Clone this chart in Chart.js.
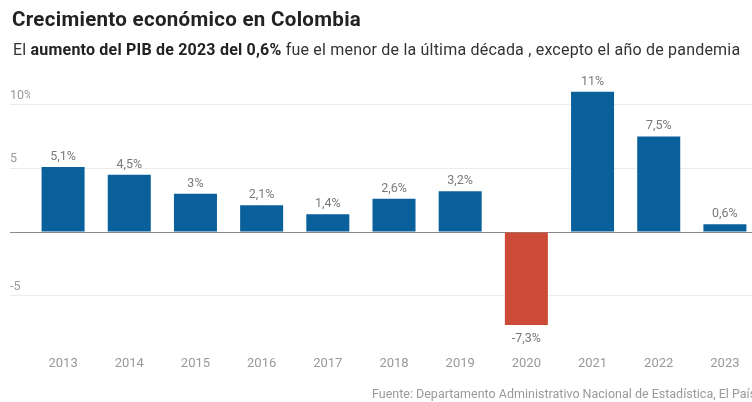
<!DOCTYPE html>
<html>
<head>
<meta charset="utf-8">
<script src="https://cdn.jsdelivr.net/npm/chart.js@4/dist/chart.umd.min.js"></script>
<style>
  html, body { margin: 0; padding: 0; background: #fff; }
  body { width: 752px; height: 402px; position: relative; overflow: hidden; font-family: 'Roboto', sans-serif; }
  #wrap { position: absolute; left: 0; top: 0; width: 758px; height: 402px; }
  .title { position: absolute; left: 12px; top: 7px; font-size: 20.5px; font-weight: 700; color: #222; letter-spacing: 0.3px; white-space: nowrap; }
  .sub { position: absolute; left: 13px; top: 40px; font-size: 16px; color: #333; white-space: nowrap; letter-spacing: 0.2px; }
  .sub b { font-weight: 700; color: #222; }
  .src { position: absolute; left: 372px; top: 386px; font-size: 12.5px; color: #9a9a9a; white-space: nowrap; }
</style>
</head>
<body>
<div id="wrap"><canvas id="chart" width="758" height="402"></canvas></div>
<div class="title">Crecimiento económico en Colombia</div>
<div class="sub">El <b>aumento del PIB de 2023 del 0,6%</b> fue el menor de la última década , excepto el año de pandemia</div>
<div class="src">Fuente: Departamento Administrativo Nacional de Estadística, El País</div>
<script>
const years = ['2013', '2014', '2015', '2016', '2017', '2018', '2019', '2020', '2021', '2022', '2023'];
const growth = [5.1, 4.5, 3.0, 2.1, 1.4, 2.6, 3.2, -7.3, 11, 7.5, 0.6];
const valueLabels = ['5,1%', '4,5%', '3%', '2,1%', '1,4%', '2,6%', '3,2%', '-7,3%', '11%', '7,5%', '0,6%'];
const yTicks = { '10': '10%', '5': '5', '0': '', '-5': '-5' };

const BLUE = '#0a609b';
const RED = '#cc4b37';

// etiquetas de valor encima / debajo de cada barra
const barLabels = {
  id: 'barLabels',
  afterDatasetsDraw(chart) {
    const ctx = chart.ctx;
    const meta = chart.getDatasetMeta(0);
    ctx.save();
    ctx.font = '12.5px Roboto, sans-serif';
    ctx.fillStyle = '#7a7a7a';
    ctx.textAlign = 'center';
    meta.data.forEach((bar, i) => {
      if (growth[i] >= 0) {
        ctx.textBaseline = 'bottom';
        ctx.fillText(valueLabels[i], bar.x, bar.y - 4);
      } else {
        ctx.textBaseline = 'top';
        ctx.fillText(valueLabels[i], bar.x, bar.y + 8);
      }
    });
    ctx.restore();
  }
};

new Chart(document.getElementById('chart'), {
  type: 'bar',
  data: {
    labels: years,
    datasets: [{
      data: growth,
      backgroundColor: growth.map(v => v < 0 ? RED : BLUE),
      borderWidth: 0,
      barPercentage: 0.65,
      categoryPercentage: 1
    }]
  },
  options: {
    responsive: false,
    animation: false,
    layout: { padding: { left: 10, right: 0, top: 79, bottom: 0 } },
    plugins: { legend: { display: false }, tooltip: { enabled: false } },
    scales: {
      x: {
        grid: { display: false },
        border: { display: false },
        ticks: { color: '#999', font: { family: 'Roboto', size: 13 }, padding: 14, maxRotation: 0, autoSkip: false },
        afterFit(scale) { scale.height = 68; }
      },
      y: {
        min: -8,
        max: 12,
        afterBuildTicks(scale) {
          scale.ticks = Object.keys(yTicks).map(Number).sort((a, b) => b - a).map(v => ({ value: v }));
        },
        afterFit(scale) { scale.width = 20; },
        border: { display: false },
        grid: {
          color: ctx => ctx.tick && ctx.tick.value === 0 ? '#8a8a8a' : '#ececec',
          drawTicks: true,
          tickLength: 20
        },
        ticks: {
          crossAlign: 'far',
          labelOffset: -9,
          padding: 0,
          color: '#9a9a9a',
          font: { family: 'Roboto', size: 12.5 },
          callback: v => yTicks[String(v)]
        }
      }
    }
  },
  plugins: [barLabels]
});
</script>
</body>
</html>
